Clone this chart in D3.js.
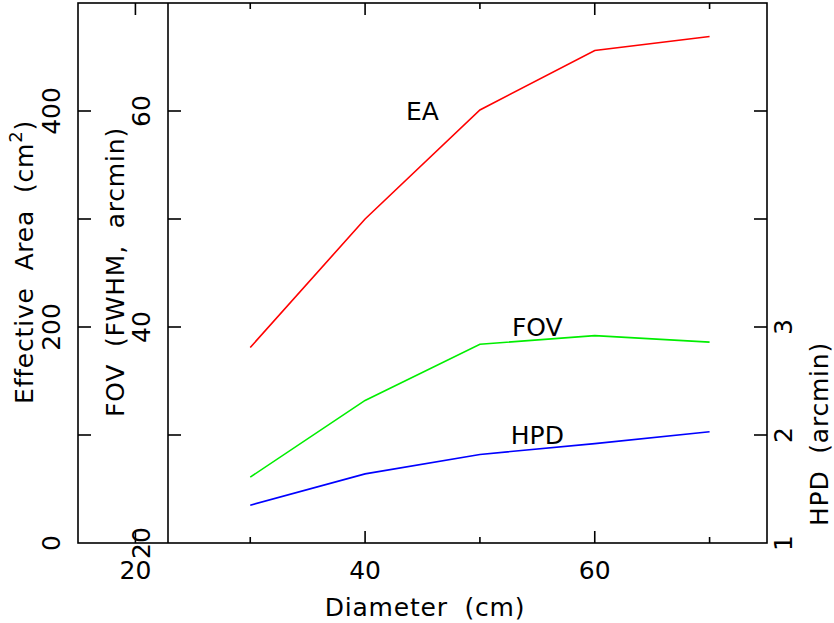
<!DOCTYPE html>
<html>
<head>
<meta charset="utf-8">
<script src="https://cdn.jsdelivr.net/npm/d3@7"></script>
<style>
  body { margin: 0; background: #fff; }
  svg text { font-family: "DejaVu Sans", sans-serif; fill: #000; }
  svg text.title { letter-spacing: 0.8px; word-spacing: 8px; }
</style>
</head>
<body>
<svg id="chart" width="834" height="623"></svg>
<script>
// diameter (cm)
const diameters = [30, 40, 50, 60, 70];
// series values
const effectiveArea = [181, 300, 401, 456, 469];   // cm^2
const fovValues = [26.1, 33.2, 38.4, 39.2, 38.6];  // arcmin FWHM
const hpdValues = [1.35, 1.64, 1.82, 1.92, 2.03];  // arcmin

// tick labels
const xTickLabels = [20, 40, 60];
const eaTickLabels = [0, 200, 400];
const fovTickLabels = [20, 40, 60];
const hpdTickLabels = [1, 2, 3];

// curve labels, in data units
const curveLabels = [
    { text: "EA", x: 45, y: 400, axis: "ea" },
    { text: "FOV", x: 55, y: 40, axis: "fov" },
    { text: "HPD", x: 55, y: 2, axis: "hpd" }
];

const svg = d3.select("#chart");
const plotLeft = 78, plotRight = 767, plotTop = 3, plotBottom = 543, fovX = 168;

const xScale = d3.scaleLinear().domain([15, 75]).range([plotLeft, plotRight]);
const eaScale = d3.scaleLinear().domain([0, 500]).range([plotBottom, plotTop]);
const fovScale = d3.scaleLinear().domain([20, 70]).range([plotBottom, plotTop]);
const hpdScale = d3.scaleLinear().domain([1, 6]).range([plotBottom, plotTop]);
const scales = { ea: eaScale, fov: fovScale, hpd: hpdScale };

const fs = 25;

// frame
svg.append("rect")
    .attr("x", plotLeft).attr("y", plotTop)
    .attr("width", plotRight - plotLeft).attr("height", plotBottom - plotTop)
    .style("fill", "none").style("stroke", "#000").style("stroke-width", 1.6);
svg.append("line")
    .attr("x1", fovX).attr("x2", fovX).attr("y1", plotTop).attr("y2", plotBottom)
    .style("stroke", "#000").style("stroke-width", 1.6);

const ticks = svg.append("g").style("stroke", "#000").style("stroke-width", 1.6);

// y ticks (shared by the left axes and mirrored on the right)
const yTicks = [100, 200, 300, 400];
yTicks.forEach(v => {
    const y = eaScale(v);
    ticks.append("line").attr("x1", plotLeft).attr("x2", plotLeft + 13).attr("y1", y).attr("y2", y);
    ticks.append("line").attr("x1", fovX).attr("x2", fovX + 13).attr("y1", y).attr("y2", y);
    ticks.append("line").attr("x1", plotRight).attr("x2", plotRight - 13).attr("y1", y).attr("y2", y);
});

// x ticks bottom and top
d3.range(20, 75, 10).forEach(v => {
    const x = xScale(v);
    const len = v % 20 === 0 ? 12 : 6;
    ticks.append("line").attr("x1", x).attr("x2", x).attr("y1", plotBottom).attr("y2", plotBottom - len);
    ticks.append("line").attr("x1", x).attr("x2", x).attr("y1", plotTop).attr("y2", plotTop + len);
});

// x tick labels
svg.append("g").selectAll("text").data(xTickLabels).join("text")
    .attr("x", d => xScale(d)).attr("y", 579)
    .attr("text-anchor", "middle").style("font-size", fs + "px")
    .text(d => d);

svg.append("text").attr("class", "title")
    .attr("x", 425).attr("y", 616)
    .attr("text-anchor", "middle").style("font-size", fs + "px")
    .text("Diameter (cm)");

// left EA tick labels (rotated)
svg.append("g").selectAll("text").data(eaTickLabels).join("text")
    .attr("transform", d => `translate(60,${eaScale(d)}) rotate(-90)`)
    .attr("text-anchor", "middle").style("font-size", fs + "px")
    .text(d => d);

// FOV tick labels
svg.append("g").selectAll("text").data(fovTickLabels).join("text")
    .attr("transform", d => `translate(150,${fovScale(d)}) rotate(-90)`)
    .attr("text-anchor", "middle").style("font-size", fs + "px")
    .text(d => d);

// HPD tick labels
svg.append("g").selectAll("text").data(hpdTickLabels).join("text")
    .attr("transform", d => `translate(792,${hpdScale(d)}) rotate(-90)`)
    .attr("text-anchor", "middle").style("font-size", fs + "px")
    .text(d => d);

// axis titles
const eaTitle = svg.append("text").attr("class", "title")
    .attr("transform", "translate(33,262) rotate(-90)")
    .attr("text-anchor", "middle").style("font-size", fs + "px");
eaTitle.append("tspan").text("Effective Area (cm");
eaTitle.append("tspan").attr("dy", -11).style("font-size", "18px").text("2");
eaTitle.append("tspan").attr("dy", 11).text(")");

svg.append("text").attr("class", "title")
    .attr("transform", "translate(124,272) rotate(-90)")
    .attr("text-anchor", "middle").style("font-size", fs + "px")
    .text("FOV (FWHM, arcmin)");

svg.append("text").attr("class", "title")
    .attr("transform", "translate(828,434) rotate(-90)")
    .attr("text-anchor", "middle").style("font-size", fs + "px")
    .text("HPD (arcmin)");

// series lines
const series = [
    { values: effectiveArea, scale: eaScale, color: "#ff0000" },
    { values: fovValues, scale: fovScale, color: "#00ee00" },
    { values: hpdValues, scale: hpdScale, color: "#0000ff" }
];

series.forEach(s => {
    const line = d3.line()
        .x((d, i) => xScale(diameters[i]))
        .y(d => s.scale(d));
    svg.append("path")
        .datum(s.values)
        .attr("d", line)
        .style("fill", "none")
        .style("stroke", s.color)
        .style("stroke-width", "1.6");
});

// curve labels
svg.append("g").selectAll("text").data(curveLabels).join("text")
    .attr("x", d => xScale(d.x))
    .attr("y", d => scales[d.axis](d.y))
    .attr("dy", "0.36em")
    .attr("text-anchor", "middle").style("font-size", fs + "px")
    .text(d => d.text);
</script>
</body>
</html>
